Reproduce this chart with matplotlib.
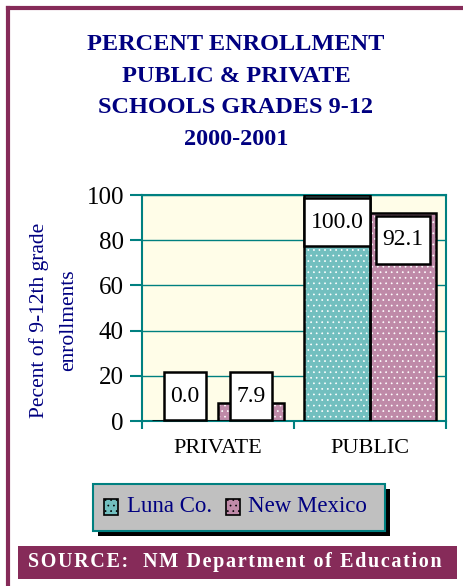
import numpy as np
import matplotlib.pyplot as plt
from matplotlib.patches import Rectangle

categories = ['PRIVATE', 'PUBLIC']
series = ['Luna Co.', 'New Mexico']
luna = [0.0, 100.0]
new_mexico = [7.9, 92.1]
y_ticks = [0, 20, 40, 60, 80, 100]

title = 'PERCENT ENROLLMENT\nPUBLIC & PRIVATE\nSCHOOLS GRADES 9-12\n2000-2001'
ylabel = 'Pecent of 9-12th grade\nenrollments'
source = 'SOURCE:  NM Department of Education'

teal = '#72BFBF'
mauve = '#BF8AA8'
maroon = '#862B59'
navy = '#000080'
grid_teal = '#008080'

plt.rcParams['font.family'] = ['Liberation Serif', 'DejaVu Serif']
plt.rcParams['hatch.color'] = 'white'
plt.rcParams['hatch.linewidth'] = 0.5


def spaced(s):
    # loose letter spacing with hair spaces
    return '\u200a'.join(s)


W, H = 464, 586
fig = plt.figure(figsize=(W / 100, H / 100), dpi=100)

# outer frame (top and left maroon lines)
fig.add_artist(plt.Line2D([8 / W, 1], [1 - 8 / H, 1 - 8 / H], color=maroon, lw=3, transform=fig.transFigure))
fig.add_artist(plt.Line2D([8 / W, 8 / W], [0, 1 - 8 / H], color=maroon, lw=3, transform=fig.transFigure))

fig.text(236 / W, 1 - 92 / H, title, ha='center', va='center', color=navy,
         fontsize=17.5, fontweight='bold', linespacing=1.67)

ax = fig.add_axes([142 / W, 1 - 421 / H, (446 - 142) / W, (421 - 195) / H])
ax.set_facecolor('#FFFDE8')
x = np.arange(len(categories))
w = 0.434
for vals, col, off in [(luna, teal, -w / 2), (new_mexico, mauve, w / 2)]:
    ax.bar(x + off, vals, w, color=col, hatch='...', edgecolor='white', linewidth=0, zorder=2)
    ax.bar(x + off, vals, w, fill=False, edgecolor='black', linewidth=1.8, zorder=3)
    for xi, v in zip(x + off, vals):
        ax.text(xi, max(v, 23) - 12, f'{v:.1f}', ha='center', va='center', fontsize=17, zorder=4,
                bbox=dict(boxstyle='square,pad=0.27', mutation_aspect=2.1,
                          fc='white', ec='black', lw=1.8))

ax.set_xlim(-0.5, 1.5)
ax.set_ylim(0, 100)
ax.set_yticks(y_ticks)
ax.yaxis.grid(True, color=grid_teal, lw=1)
ax.set_axisbelow(True)
for s in ax.spines.values():
    s.set_color(grid_teal)
    s.set_linewidth(1.5)
ax.set_xticks([-0.5, 0.5, 1.5])
ax.set_xticklabels([])
ax.set_xticks(x, minor=True)
ax.set_xticklabels(categories, minor=True, fontsize=16)
ax.tick_params(axis='x', which='minor', length=0, pad=13)
ax.tick_params(axis='x', which='major', length=6, color=grid_teal, width=1.5)
ax.tick_params(axis='y', length=9, color=grid_teal, width=1.5, labelsize=18, pad=4)
ax.set_ylabel(ylabel, color=navy, fontsize=15.5, linespacing=1.7)
ax.yaxis.set_label_coords(-0.21, 0.447)

# legend box with shadow
fig.add_artist(Rectangle((98 / W, 1 - 536 / H), 292 / W, 47 / H, fc='black', ec='none', transform=fig.transFigure))
fig.add_artist(Rectangle((93 / W, 1 - 531 / H), 292 / W, 47 / H, fc='#C0C0C0', ec=grid_teal, lw=1.5, transform=fig.transFigure))
for sx, tx, col, name in [(104, 127, teal, series[0]), (226, 248, mauve, series[1])]:
    fig.add_artist(Rectangle((sx / W, 1 - 515 / H), 14 / W, 16 / H, fc=col, ec='black', lw=1.2,
                             hatch='...', transform=fig.transFigure))
    fig.text(tx / W, 1 - 507 / H, name, ha='left', va='center', color=navy, fontsize=16.5)

# source banner
fig.add_artist(Rectangle((18 / W, 1 - 579 / H), 439 / W, 33 / H, fc=maroon, ec='none', transform=fig.transFigure))
fig.text(235 / W, 1 - 562 / H, spaced(source), ha='center', va='center', color='white',
         fontsize=14.5, fontweight='bold')

fig.savefig('out.png', dpi=100)
